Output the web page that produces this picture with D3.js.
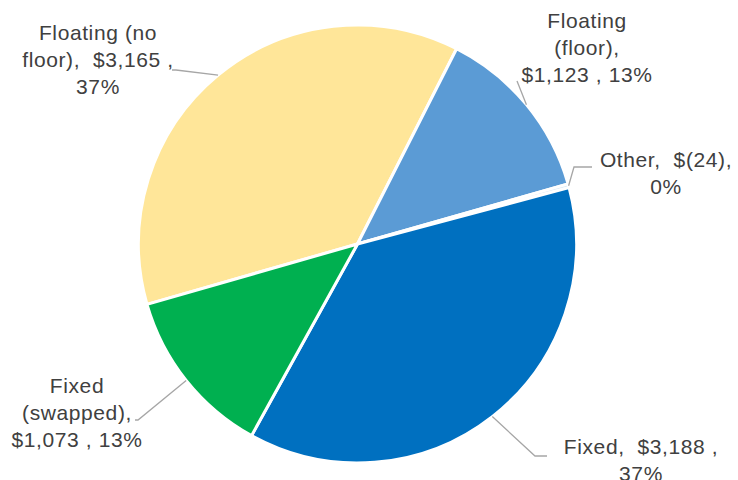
<!DOCTYPE html>
<html>
<head>
<meta charset="utf-8">
<script src="https://cdn.jsdelivr.net/npm/d3@7/dist/d3.min.js"></script>
<style>
  html, body { margin: 0; padding: 0; background: #ffffff; }
  svg { display: block; }
  .lbl { font-family: "Liberation Sans", Arial, sans-serif; font-size: 21px; fill: #404040; letter-spacing: 0.6px; }
</style>
</head>
<body>
<svg id="chart" width="738" height="480"></svg>
<script>
// Portfolio mix by rate type ($ in millions)
const categories = ["Floating (no floor)", "Floating (floor)", "Other", "Fixed", "Fixed (swapped)"];
const amounts = [3165, 1123, -24, 3188, 1073];
const colors = ["#FFE699", "#5B9BD5", "#DDEBF7", "#0070C0", "#00B050"];

// words per wrapped line in each data label
const lineBreaks = [[2, 2, 1], [1, 1, 2], [2, 1], [2, 1], [1, 1, 2]];
// label anchor (center x, first baseline y) and leader-line elbow/end points
const labelPos = [
  { x: 98, y: 40, elbow: [176, 70], end: [172, 70] },
  { x: 587, y: 28, elbow: [517, 81], end: [517, 81] },
  { x: 666, y: 167, elbow: [574, 167], end: [592, 167] },
  { x: 641, y: 454, elbow: [535, 456], end: [547, 456] },
  { x: 77, y: 393, elbow: [138, 420], end: [135, 420] }
];

const data = categories.map((c, i) => ({ name: c, value: amounts[i], color: colors[i], i }));

const svg = d3.select("#chart");
const cx = 357.5, cy = 244, radius = 219;
const g = svg.append("g").attr("transform", `translate(${cx},${cy})`);

const pie = d3.pie()
  .sort(null)
  .value(d => Math.abs(d.value))
  .startAngle(-106 * Math.PI / 180)
  .endAngle(254 * Math.PI / 180);

const arcs = pie(data);
const arc = d3.arc().innerRadius(0).outerRadius(radius);

g.selectAll("path.slice")
  .data(arcs)
  .join("path")
  .attr("class", "slice")
  .attr("d", arc)
  .attr("fill", d => d.data.color)
  .attr("stroke", "#ffffff")
  .attr("stroke-width", 3)
  .attr("stroke-linejoin", "round");

const total = d3.sum(data, d => Math.abs(d.value));
const num = d3.format(",");
const valueText = v => v < 0 ? `$(${num(-v)}),` : `$${num(v)}\u00a0,`;

// leader lines from the outer edge at each slice's mid angle
arcs.forEach((a, k) => {
  const mid = (a.startAngle + a.endAngle) / 2;
  const p0 = [cx + radius * Math.sin(mid), cy - radius * Math.cos(mid)];
  const lp = labelPos[k];
  svg.append("path")
    .attr("d", d3.line()([p0, lp.elbow, lp.end]))
    .attr("fill", "none")
    .attr("stroke", "#A6A6A6")
    .attr("stroke-width", 1.3);
});

// wrapped data labels: "name, value, percent"
arcs.forEach((a, k) => {
  const d = a.data;
  const pct = Math.round(Math.abs(d.value) / total * 100) + "%";
  const tokens = (d.name + ",").split(" ").concat([valueText(d.value), pct]);
  const lines = [];
  let idx = 0;
  lineBreaks[k].forEach(n => {
    const words = tokens.slice(idx, idx + n);
    // the value is set off from the name by a wider gap
    const txt = words.map((w, j) => (j > 0 && w.startsWith("$") ? "\u00a0" + w : w)).join(" ");
    lines.push(txt);
    idx += n;
  });
  const lp = labelPos[k];
  const t = svg.append("text")
    .attr("class", "lbl")
    .attr("text-anchor", "middle");
  lines.forEach((ln, j) => {
    t.append("tspan")
      .attr("x", lp.x)
      .attr("y", lp.y + j * 27)
      .text(ln);
  });
});
</script>
</body>
</html>
